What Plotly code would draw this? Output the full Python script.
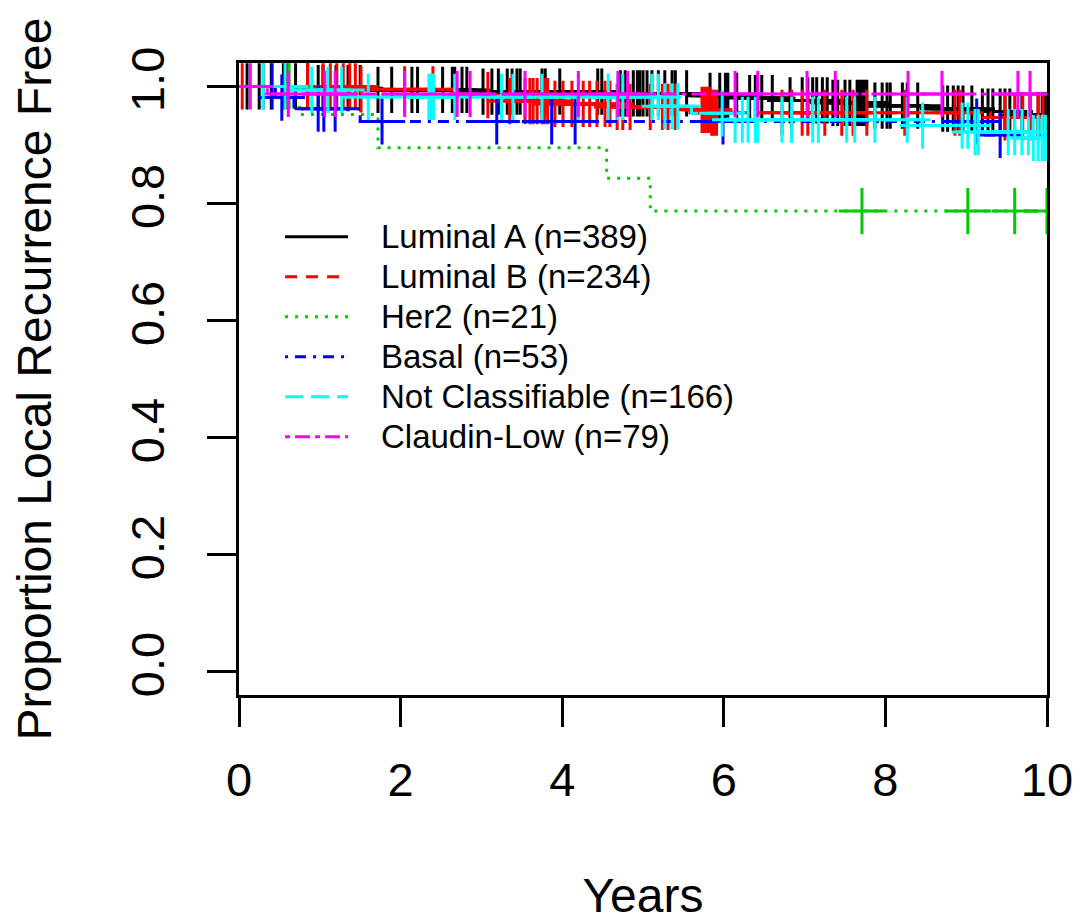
import plotly.graph_objects as go

# ---------------- data ----------------
groups = ["Luminal A (n=389)", "Luminal B (n=234)", "Her2 (n=21)",
          "Basal (n=53)", "Not Classifiable (n=166)", "Claudin-Low (n=79)"]
colors = ["#000000", "#FF0000", "#00CD00", "#0000FF", "#00FFFF", "#FF00FF"]
dashes = ["solid", "12px,9px", "3px,7px", "3px,7px,11px,7px", "18px,8px", "5px,5px,15px,5px"]

# event times (years) and survival level after each event
lumA_event_t = [0.9, 1.6, 2.9, 4.5, 5.6, 6.3, 6.8, 7.3, 7.8, 8.5, 9.1, 9.6]
lumA_surv = [0.997, 0.994, 0.991, 0.988, 0.984, 0.980, 0.976, 0.972, 0.967, 0.962, 0.957, 0.951]
lumA_cens = [0.10, 0.25, 0.40, 0.55, 0.70, 0.85, 0.98, 1.04, 1.20, 1.35, 1.50, 1.72, 1.89,
             2.14, 2.21, 2.52, 2.64, 2.67, 2.76, 2.82, 3.02, 3.13, 3.21, 3.32, 3.38, 3.44,
             3.48, 3.75, 3.79, 3.97, 4.44, 4.49, 4.72, 4.78, 4.88, 4.93, 4.96, 5.00, 5.05,
             5.11, 5.19, 5.27, 5.36, 5.40, 5.54, 5.83, 5.95, 6.02, 6.05, 6.16, 6.32, 6.39,
             6.47, 6.60, 6.82, 6.97, 7.04, 7.10, 7.15, 7.22, 7.28, 7.35, 7.41, 7.50, 7.56,
             7.65, 7.68, 7.71, 7.74, 7.77, 7.87, 7.96, 8.02, 8.06, 8.21, 8.27, 8.40, 8.71,
             8.77, 8.84, 8.90, 8.96, 9.07, 9.20, 9.27, 9.33, 9.42, 9.48, 9.54, 9.69, 9.79,
             9.89, 9.94, 9.98]

lumB_event_t = [1.45, 2.75, 3.3, 3.9, 4.6, 5.6, 5.85, 9.3]
lumB_surv = [0.995, 0.985, 0.975, 0.970, 0.965, 0.960, 0.955, 0.947]
lumB_cens = [0.04, 0.30, 0.60, 0.85, 1.04, 1.13, 1.21, 1.29, 1.37, 1.44, 1.51, 2.05, 2.40,
             3.08, 3.35, 3.54, 3.60, 3.64, 3.69, 3.75, 3.78, 3.82, 3.91, 4.01, 4.12, 4.26,
             4.34, 4.43, 4.53, 4.59, 4.68, 4.75, 4.84, 5.09, 5.24, 5.31, 5.40, 5.73, 5.76,
             5.79, 5.82, 5.85, 5.88, 5.91, 6.72, 6.84, 6.97, 7.04, 7.25, 7.46, 7.60, 7.77,
             8.24, 8.86, 8.92, 9.48, 9.60, 9.70, 9.79, 9.89, 9.95]

her2_event_t = [0.75, 1.72, 4.55, 5.09]
her2_surv = [0.952, 0.895, 0.843, 0.787]
her2_cens = [0.62, 7.71, 9.02, 9.60, 10.0]

basal_event_t = [0.45, 0.68, 1.5, 9.2]
basal_surv = [0.981, 0.962, 0.940, 0.917]
basal_cens = [0.41, 0.53, 0.98, 1.05, 1.19, 1.77, 3.19, 3.87, 4.16, 5.99, 9.13, 9.42]

nc_event_t = [0.6, 1.3, 5.25, 5.6, 6.05, 8.45, 9.07, 9.8]
nc_surv = [0.994, 0.982, 0.966, 0.954, 0.943, 0.933, 0.922, 0.912]
nc_cens = [0.30, 0.57, 0.90, 1.10, 1.27, 1.60, 2.35, 2.37, 2.39, 2.41, 2.67, 3.25, 3.39,
           3.75, 4.20, 4.57, 4.69, 4.75, 5.11, 5.19, 5.27, 5.36, 5.43, 5.98, 6.14, 6.23,
           6.30, 6.39, 6.42, 6.72, 6.84, 7.10, 7.17, 7.52, 7.62, 7.87, 8.27, 8.46, 8.95,
           9.02, 9.11, 9.15, 9.52, 9.60, 9.69, 9.77, 9.83, 9.89, 9.94, 9.98]

cl_event_t = [0.35]
cl_surv = [0.987]
cl_cens = [0.14, 0.61, 1.06, 1.19, 2.05, 2.70, 2.86, 3.54, 4.20, 4.69, 4.81, 6.14, 6.42,
           7.03, 7.38, 8.28, 8.70, 9.64, 9.79]

follow_up_end = 10.3
x_ticks = [0, 2, 4, 6, 8, 10]
y_ticks = [0.0, 0.2, 0.4, 0.6, 0.8, 1.0]

series = [
    (lumA_event_t, lumA_surv, lumA_cens),
    (lumB_event_t, lumB_surv, lumB_cens),
    (her2_event_t, her2_surv, her2_cens),
    (basal_event_t, basal_surv, basal_cens),
    (nc_event_t, nc_surv, nc_cens),
    (cl_event_t, cl_surv, cl_cens),
]


def surv_at(t, ev_t, ev_s):
    s = 1.0
    for et, es in zip(ev_t, ev_s):
        if et <= t:
            s = es
    return s


fig = go.Figure()
for name, col, dash, (ev_t, ev_s, cens) in zip(groups, colors, dashes, series):
    xs = [0.0] + list(ev_t) + [follow_up_end]
    ys = [1.0] + list(ev_s) + [ev_s[-1]]
    fig.add_trace(go.Scatter(x=xs, y=ys, mode="lines", line_shape="hv", name=name,
                             line=dict(color=col, width=3, dash=dash), showlegend=False,
                             hoverinfo="skip"))
    fig.add_trace(go.Scatter(x=cens, y=[surv_at(t, ev_t, ev_s) for t in cens],
                             mode="markers", name=name + " censored", showlegend=False,
                             marker=dict(symbol="cross-thin", size=33,
                                         line=dict(color=col, width=3))))

# legend drawn in R style (long line samples)
leg_x0, leg_x1, leg_text_x = 0.057, 0.135, 0.173
leg_y_top, leg_step = 0.725, 0.0633
for i, (name, col, dash) in enumerate(zip(groups, colors, dashes)):
    yy = leg_y_top - i * leg_step
    fig.add_shape(type="line", xref="paper", yref="paper", x0=leg_x0, x1=leg_x1,
                  y0=yy, y1=yy, line=dict(color=col, width=3, dash=dash))
    fig.add_annotation(xref="paper", yref="paper", x=leg_text_x, y=yy, text=name,
                       showarrow=False, xanchor="left", yanchor="middle",
                       font=dict(size=33, color="black", family="Liberation Sans, Arial"))

fig.update_layout(
    width=1082, height=914,
    margin=dict(l=231, r=43, t=55, b=227, autoexpand=False),
    paper_bgcolor="white", plot_bgcolor="white",
    font=dict(family="Liberation Sans, Arial", color="black"),
    showlegend=False,
)
fig.update_xaxes(range=[0, 10], tickvals=x_ticks, ticktext=[str(v) for v in x_ticks],
                 ticks="outside", ticklen=29, tickwidth=3, tickcolor="black",
                 showline=True, linewidth=3, linecolor="black", mirror=True,
                 showgrid=False, zeroline=False, tickfont=dict(size=47),
                 ticklabelstandoff=13, automargin=False,
                 title=dict(text="Years", font=dict(size=48), standoff=96))
fig.update_yaxes(range=[-0.04, 1.04], tickvals=y_ticks, ticktext=[f"{v:.1f}" for v in y_ticks],
                 ticks="outside", ticklen=29, tickwidth=3, tickcolor="black",
                 showline=True, linewidth=3, linecolor="black", mirror=True,
                 showgrid=False, zeroline=False, tickfont=dict(size=47), tickangle=-90,
                 ticklabelstandoff=24, automargin=False,
                 title=dict(text="Proportion Local Recurrence Free", font=dict(size=48), standoff=55))

fig.write_html("out.html")
